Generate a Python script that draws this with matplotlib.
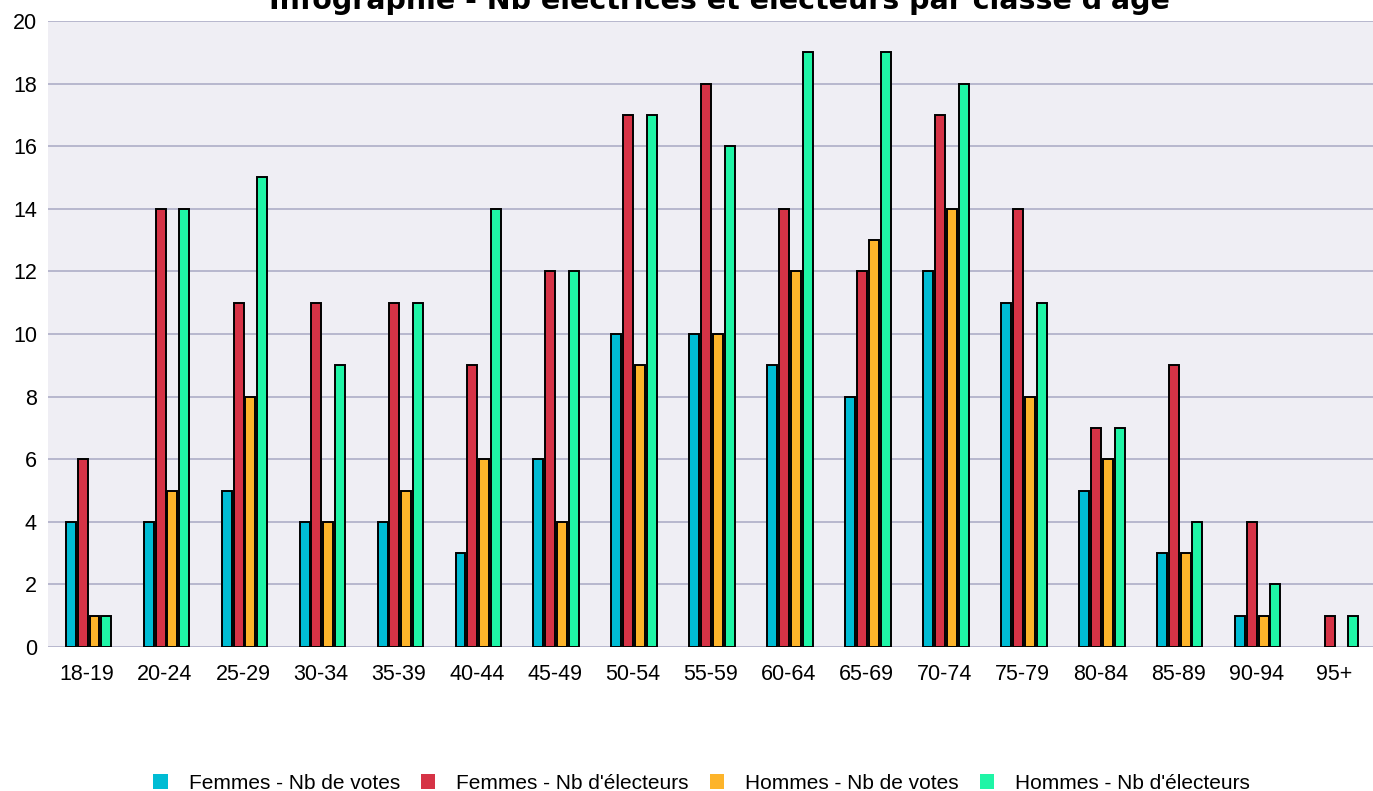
import numpy as np
import matplotlib
matplotlib.use("Agg")
import matplotlib.pyplot as plt
from matplotlib.patches import Patch

plt.rcParams['font.family'] = ['Liberation Sans', 'DejaVu Sans']

# classes d'âge
classes = ["18-19", "20-24", "25-29", "30-34", "35-39", "40-44", "45-49", "50-54",
           "55-59", "60-64", "65-69", "70-74", "75-79", "80-84", "85-89", "90-94", "95+"]

femmes_votes = [4, 4, 5, 4, 4, 3, 6, 10, 10, 9, 8, 12, 11, 5, 3, 1, 0]
femmes_electeurs = [6, 14, 11, 11, 11, 9, 12, 17, 18, 14, 12, 17, 14, 7, 9, 4, 1]
hommes_votes = [1, 5, 8, 4, 5, 6, 4, 9, 10, 12, 13, 14, 8, 6, 3, 1, 0]
hommes_electeurs = [1, 14, 15, 9, 11, 14, 12, 17, 16, 19, 19, 18, 11, 7, 4, 2, 1]

series = [
    ("Femmes - Nb de votes", femmes_votes, "#00bcd4"),
    ("Femmes - Nb d'électeurs", femmes_electeurs, "#d63346"),
    ("Hommes - Nb de votes", hommes_votes, "#fdb42a"),
    ("Hommes - Nb d'électeurs", hommes_electeurs, "#1ff5a6"),
]

fig = plt.figure(figsize=(13.73, 7.91), dpi=100)
ax = fig.add_axes([0.035, 0.182, 0.965, 0.7915])
ax.set_facecolor("#efeef4")

x = np.arange(len(classes))
pitch = 0.152
width = 0.128
for k, (label, vals, color) in enumerate(series):
    vals = np.array(vals, dtype=float)
    keep = vals > 0
    ax.bar(x[keep] + (k - 1.5) * pitch + 0.02, vals[keep], width=width, color=color,
           edgecolor="black", linewidth=1.4, zorder=3)

ax.set_xlim(-0.5, len(classes) - 0.5)
ax.set_ylim(0, 20)
ax.set_yticks(range(0, 21, 2))
ax.set_xticks(x)
ax.set_xticklabels(classes)
ax.tick_params(axis='both', length=0, labelsize=15.5)
ax.tick_params(axis='x', pad=12)
ax.tick_params(axis='y', pad=8)
ax.grid(axis='y', color="#b3b3cb", linewidth=1.3, zorder=0)
for s in ax.spines.values():
    s.set_visible(False)

# titre (coupé en haut comme dans l'original)
fig.text(0.524, 0.9886, "Infographie - Nb électrices et électeurs par classe d'âge",
         ha='center', va='baseline', fontsize=20.5, fontweight='bold',
         family=['DejaVu Sans'])

handles = [Patch(facecolor=c, edgecolor='none', label=l) for l, _, c in series]
fig.legend(handles=handles, loc='lower center', bbox_to_anchor=(0.511, -0.026), ncol=4,
           frameon=False, fontsize=15, handlelength=0.7, handleheight=0.7,
           handletextpad=1.0, columnspacing=1.0)

fig.savefig("out.png", dpi=100)
